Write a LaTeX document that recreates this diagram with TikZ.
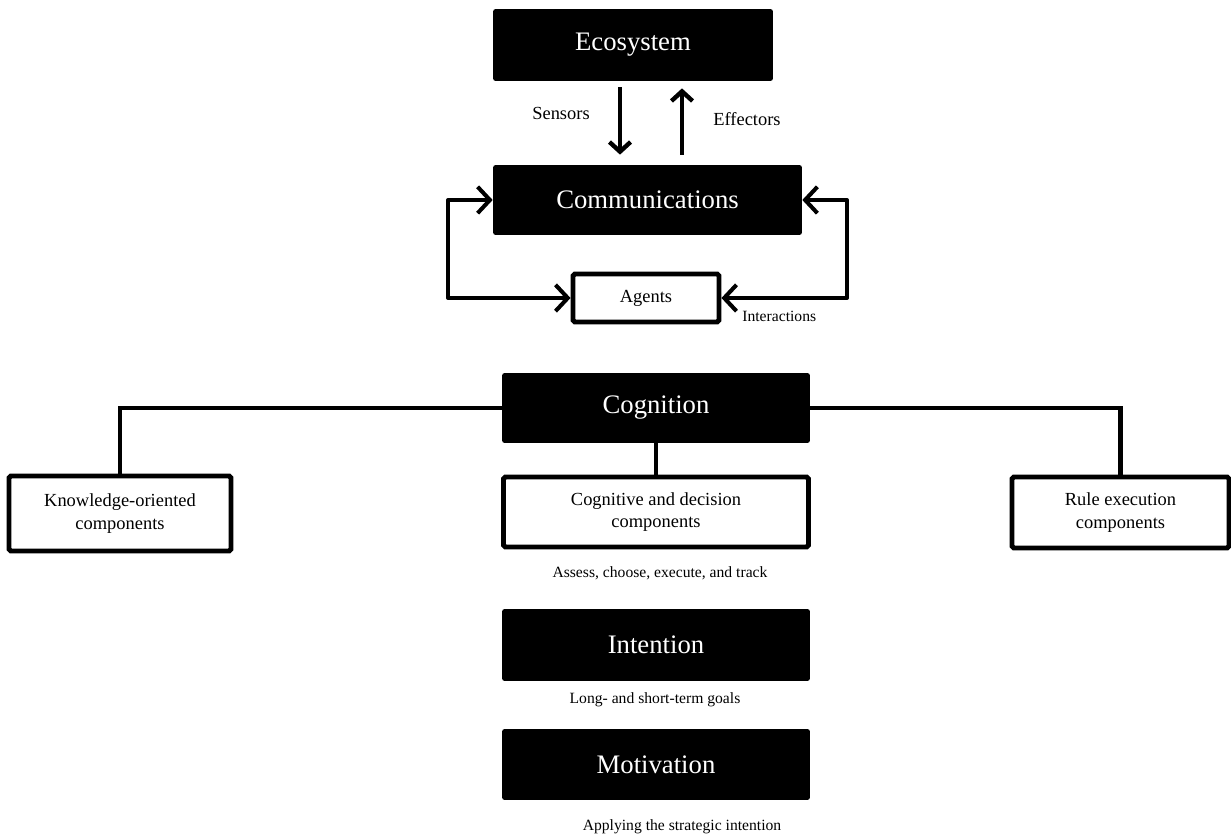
\documentclass[tikz,border=0pt]{standalone}
\usepackage{fontspec}
\setmainfont{Liberation Serif}
\usetikzlibrary{arrows.meta}

\tikzset{
    blackbox/.style={fill=black, rounded corners=1.5pt, text=white, inner sep=0pt,
        font=\fontsize{15.2}{18}\selectfont},
    whitebox/.style={draw=black, line width=2.8pt, rounded corners=1pt, inner sep=0pt,
        align=center, font=\fontsize{10.5}{13}\selectfont},
    label/.style={font=\fontsize{10.5}{13}\selectfont, inner sep=0pt},
    note/.style={font=\fontsize{8.9}{11}\selectfont, inner sep=0pt},
    link/.style={line width=2.3pt},
    loop/.style={line width=2.3pt, line join=round, {Straight Barb[length=7pt,width=15pt]}-{Straight Barb[length=7pt,width=15pt]}},
    flow/.style={line width=2.5pt, -{Straight Barb[length=5.5pt,width=12pt]}}
}

\begin{document}
\begin{tikzpicture}[x=0.02cm, y=-0.02cm]
    % Fix the page to the reference size
    \useasboundingbox (0,0) rectangle (1231,837);

    % Upper part: ecosystem, communications and agents
    \node[blackbox, minimum width=5.6cm, minimum height=1.44cm] (eco) at (633,45) {Ecosystem};
    \node[blackbox, minimum width=6.18cm, minimum height=1.4cm] (comm) at (647.5,200) {Communications};
    \node[whitebox, minimum width=2.92cm, minimum height=0.96cm] (agents) at (646,298) {Agents};

    \node[label] (sens) at (561,113) {Sensors};
    \node[label] (eff) at (747,119) {Effectors};
    \node[note, anchor=north west] (inter) at (742,311) {Interactions};

    % Sensors and effectors arrows
    \coordinate (sx) at (620,0);
    \coordinate (ex) at (682,0);
    \draw[flow, shorten <=3.4pt, shorten >=5.7pt] (eco.south -| sx) -- (comm.north -| sx);
    \draw[flow, shorten <=5.7pt, shorten >=4pt] (comm.north -| ex) -- (eco.south -| ex);

    % Interaction loops between communications and agents
    \coordinate (lx) at (448,0);
    \coordinate (rx) at (847,0);
    \draw[loop] (comm.west) -- (comm.west -| lx) |- (agents.west);
    \draw[loop] (comm.east) -- (comm.east -| rx) |- (agents.east);

    % Cognition and its components
    \node[blackbox, minimum width=6.16cm, minimum height=1.4cm] (cog) at (656,408) {Cognition};
    \node[whitebox, minimum width=4.44cm, minimum height=1.5cm] (know) at (120,513.5) {Knowledge-oriented\\components};
    \node[whitebox, minimum width=6.1cm, minimum height=1.4cm] (cogdec) at (656,512) {Cognitive and decision\\components};
    \node[whitebox, minimum width=4.34cm, minimum height=1.42cm] (rule) at (1120.5,512.5) {Rule execution\\components};
    \node[note] (assess) at (660,573) {Assess, choose, execute, and track};

    \draw[link] (cog.west) -| (know.north);
    \draw[link] (cog.east) -| (rule.north);
    \draw[link] (cog.south) -- (cogdec.north);

    % Intention and motivation
    \node[blackbox, minimum width=6.16cm, minimum height=1.44cm] (intent) at (656,645) {Intention};
    \node[note] (goals) at (655,700) {Long- and short-term goals};
    \node[blackbox, minimum width=6.16cm, minimum height=1.42cm] (motiv) at (656,764.5) {Motivation};
    \node[note] (apply) at (682,827) {Applying the strategic intention};
\end{tikzpicture}
\end{document}
